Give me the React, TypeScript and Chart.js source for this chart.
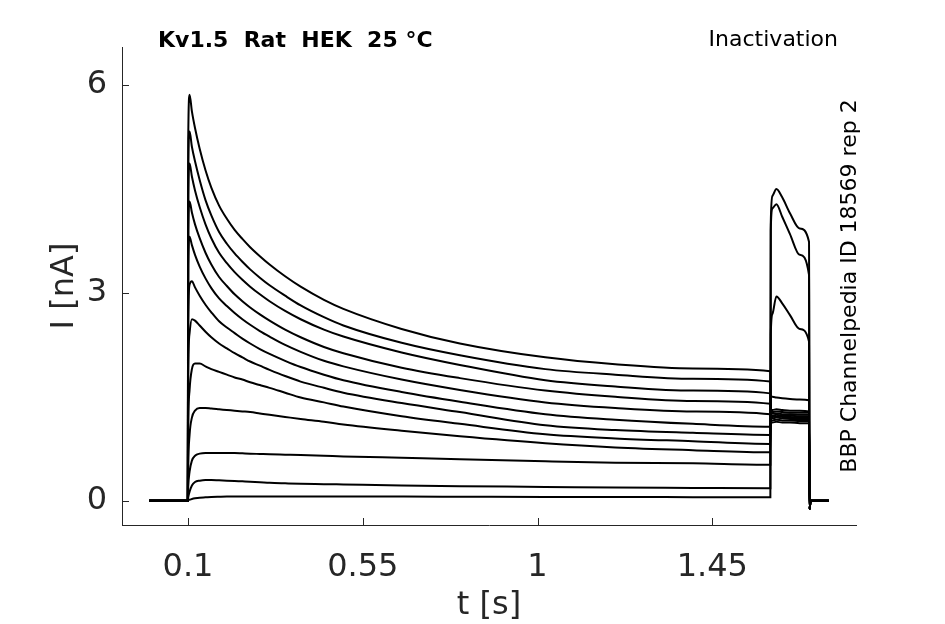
import React, { useEffect, useRef } from 'react';
import { Chart, registerables } from 'chart.js';

Chart.register(...registerables);

// holding potential before the prepulse
const holdTimes = [0, 0.0995];

// prepulse (0.1 - 1.6 s) sample times and currents per sweep [nA]
const prepulseTimes = [
  0.1005, 0.104, 0.11, 0.118, 0.13, 0.145, 0.16, 0.18, 0.2, 0.22, 0.24, 0.26, 0.285, 0.31, 0.35, 0.39, 0.45, 0.5,
  0.65, 0.8, 1.02, 1.2, 1.4, 1.5995,
];
const prepulseCurrents = [
  [5.2, 5.86, 5.62, 5.38, 5.08, 4.77, 4.52, 4.26, 4.07, 3.91, 3.78, 3.66, 3.53, 3.41, 3.24, 3.09, 2.9, 2.77, 2.48, 2.27, 2.07, 1.97, 1.91, 1.87],
  [4.8, 5.33, 5.11, 4.9, 4.63, 4.34, 4.12, 3.88, 3.71, 3.57, 3.45, 3.34, 3.22, 3.11, 2.96, 2.82, 2.65, 2.53, 2.28, 2.1, 1.9, 1.82, 1.76, 1.72],
  [4.4, 4.87, 4.68, 4.48, 4.24, 3.99, 3.79, 3.58, 3.43, 3.3, 3.19, 3.09, 2.98, 2.88, 2.74, 2.62, 2.47, 2.37, 2.14, 1.96, 1.74, 1.65, 1.59, 1.55],
  [3.9, 4.32, 4.16, 3.99, 3.79, 3.58, 3.41, 3.23, 3.1, 2.98, 2.88, 2.79, 2.69, 2.6, 2.47, 2.36, 2.22, 2.13, 1.92, 1.77, 1.59, 1.5, 1.44, 1.4],
  [3.4, 3.81, 3.69, 3.55, 3.38, 3.21, 3.07, 2.92, 2.81, 2.71, 2.62, 2.54, 2.45, 2.37, 2.25, 2.15, 2.02, 1.94, 1.75, 1.6, 1.42, 1.34, 1.29, 1.25],
  [2.6, 3.12, 3.17, 3.08, 2.96, 2.83, 2.72, 2.59, 2.5, 2.42, 2.34, 2.27, 2.19, 2.12, 2.02, 1.93, 1.82, 1.74, 1.57, 1.43, 1.25, 1.17, 1.11, 1.07],
  [1.8, 2.42, 2.62, 2.6, 2.53, 2.44, 2.36, 2.27, 2.2, 2.13, 2.07, 2.01, 1.95, 1.89, 1.8, 1.72, 1.63, 1.56, 1.41, 1.28, 1.09, 1.02, 0.98, 0.95],
  [1.0, 1.6, 1.9, 1.98, 1.98, 1.94, 1.9, 1.86, 1.82, 1.78, 1.75, 1.71, 1.67, 1.63, 1.56, 1.49, 1.42, 1.36, 1.22, 1.11, 0.96, 0.9, 0.86, 0.82],
  [0.5, 0.95, 1.2, 1.3, 1.34, 1.34, 1.33, 1.32, 1.31, 1.3, 1.29, 1.28, 1.26, 1.24, 1.21, 1.18, 1.14, 1.1, 1.01, 0.93, 0.83, 0.77, 0.73, 0.7],
  [0.2, 0.42, 0.58, 0.65, 0.68, 0.69, 0.69, 0.69, 0.69, 0.69, 0.685, 0.68, 0.675, 0.67, 0.665, 0.66, 0.65, 0.64, 0.62, 0.6, 0.57, 0.55, 0.54, 0.52],
  [0.05, 0.13, 0.22, 0.27, 0.29, 0.3, 0.3, 0.295, 0.29, 0.285, 0.28, 0.275, 0.268, 0.26, 0.252, 0.245, 0.24, 0.235, 0.22, 0.21, 0.2, 0.19, 0.185, 0.18],
  [0.01, 0.015, 0.025, 0.035, 0.045, 0.05, 0.055, 0.058, 0.06, 0.06, 0.06, 0.06, 0.06, 0.06, 0.061, 0.062, 0.061, 0.06, 0.06, 0.058, 0.055, 0.055, 0.052, 0.05],
];

// test pulse (1.6 - 1.7 s)
const testTimes = [1.6005, 1.605, 1.615, 1.63, 1.65, 1.675, 1.699];
const testCurrents = [
  [1.13, 1.13, 1.14, 1.13, 1.13, 1.12, 1.12],
  [1.16, 1.16, 1.17, 1.16, 1.16, 1.15, 1.15],
  [1.19, 1.19, 1.2, 1.19, 1.18, 1.18, 1.18],
  [1.21, 1.21, 1.22, 1.21, 1.21, 1.2, 1.2],
  [1.23, 1.23, 1.24, 1.23, 1.23, 1.22, 1.22],
  [1.25, 1.26, 1.26, 1.25, 1.25, 1.24, 1.24],
  [1.28, 1.28, 1.29, 1.28, 1.27, 1.27, 1.27],
  [1.31, 1.31, 1.32, 1.31, 1.3, 1.3, 1.29],
  [1.5, 1.5, 1.49, 1.48, 1.47, 1.46, 1.45],
  [2.4, 2.7, 2.95, 2.85, 2.68, 2.48, 2.3],
  [3.9, 4.22, 4.28, 4.1, 3.85, 3.55, 3.26],
  [4.0, 4.4, 4.5, 4.38, 4.15, 3.93, 3.74],
];

// back to holding
const tailTimes = [1.7005, 1.703, 1.75];
const tailCurrents = [-0.12, 0, 0];

const xTicks = [0.1, 0.55, 1, 1.45];
const yTicks = [0, 3, 6];

const titleText = 'Kv1.5  Rat  HEK  25 °C';
const protocolText = 'Inactivation';
const sourceText = 'BBP Channelpedia ID 18569 rep 2';

const axisColor = '#262626';
const fontFamily = '"DejaVu Sans", sans-serif';

const sweeps = prepulseCurrents.map((pre, i) => [
  ...holdTimes.map((t) => ({ x: t, y: 0 })),
  ...prepulseTimes.map((t, j) => ({ x: t, y: pre[j] })),
  ...testTimes.map((t, j) => ({ x: t, y: testCurrents[i][j] })),
  ...tailTimes.map((t, j) => ({ x: t, y: tailCurrents[j] })),
]);

// inward tick marks plus the header / side texts
const decorations = {
  id: 'decorations',
  afterDraw(chart: any) {
    const { ctx, chartArea, scales } = chart;
    ctx.save();
    ctx.strokeStyle = axisColor;
    ctx.lineWidth = 1;
    xTicks.forEach((v) => {
      const px = Math.round(scales.x.getPixelForValue(v)) + 0.5;
      ctx.beginPath();
      ctx.moveTo(px, chartArea.bottom);
      ctx.lineTo(px, chartArea.bottom - 7);
      ctx.stroke();
    });
    yTicks.forEach((v) => {
      const py = Math.round(scales.y.getPixelForValue(v)) + 0.5;
      ctx.beginPath();
      ctx.moveTo(chartArea.left, py);
      ctx.lineTo(chartArea.left + 7, py);
      ctx.stroke();
    });

    ctx.fillStyle = '#000';
    ctx.textBaseline = 'alphabetic';
    ctx.font = `bold 22px ${fontFamily}`;
    ctx.textAlign = 'left';
    ctx.fillText(titleText, 158, 47);
    ctx.font = `22px ${fontFamily}`;
    ctx.textAlign = 'right';
    ctx.fillText(protocolText, 838, 46);

    ctx.translate(850, 286);
    ctx.rotate(-Math.PI / 2);
    ctx.textAlign = 'center';
    ctx.textBaseline = 'middle';
    ctx.font = `22px ${fontFamily}`;
    ctx.fillText(sourceText, 0, 0);
    ctx.restore();
  },
};

const App: React.FC = () => {
  const canvasRef = useRef<HTMLCanvasElement | null>(null);

  useEffect(() => {
    document.body.style.margin = '0';
    if (!canvasRef.current) return;

    const chart = new Chart(canvasRef.current, {
      type: 'line',
      data: {
        datasets: sweeps.map((pts) => ({
          data: pts,
          borderColor: '#000',
          borderWidth: 2,
          pointRadius: 0,
          fill: false,
          cubicInterpolationMode: 'monotone' as const,
        })),
      },
      options: {
        responsive: false,
        animation: false,
        parsing: false,
        layout: { padding: { top: 47, right: 89, bottom: 0, left: 0 } },
        plugins: {
          legend: { display: false },
          tooltip: { enabled: false },
        },
        scales: {
          x: {
            type: 'linear',
            min: -0.07,
            max: 1.82,
            afterBuildTicks: (s: any) => {
              s.ticks = xTicks.map((v) => ({ value: v }));
            },
            afterFit: (s: any) => {
              s.height = 99;
            },
            grid: { display: false },
            border: { display: true, color: axisColor, width: 1 },
            ticks: {
              color: axisColor,
              font: { family: fontFamily, size: 32 },
              padding: 15,
              maxRotation: 0,
              autoSkip: false,
              callback: (v: any) => String(v),
            },
            title: {
              display: true,
              text: 't [s]',
              color: axisColor,
              font: { family: fontFamily, size: 32 },
              padding: { top: 0, bottom: -1 },
            },
          },
          y: {
            type: 'linear',
            min: -0.35,
            max: 6.55,
            afterBuildTicks: (s: any) => {
              s.ticks = yTicks.map((v) => ({ value: v }));
            },
            afterFit: (s: any) => {
              s.width = 122;
            },
            grid: { display: false },
            border: { display: true, color: axisColor, width: 1 },
            ticks: {
              color: axisColor,
              font: { family: fontFamily, size: 32 },
              padding: 7,
              autoSkip: false,
              callback: (v: any) => String(v),
            },
            title: {
              display: true,
              text: 'I [nA]',
              color: axisColor,
              font: { family: fontFamily, size: 32 },
              padding: { top: 45, bottom: 0 },
            },
          },
        },
      },
      plugins: [decorations],
    });

    return () => {
      chart.destroy();
    };
  }, []);

  return (
    <div style={{ width: 945, height: 624, background: '#fff' }}>
      <canvas ref={canvasRef} width={945} height={624} style={{ display: 'block' }} />
    </div>
  );
};

export default App;
